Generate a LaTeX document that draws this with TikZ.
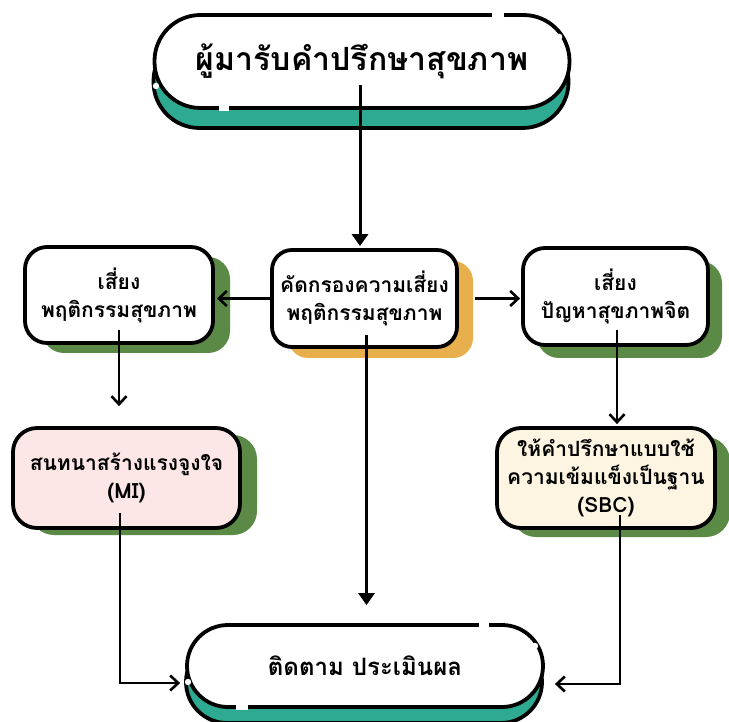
\documentclass[tikz,border=0pt]{standalone}
\usepackage{fontspec}
\newfontfamily\thai[Script=Thai]{Loma}
\usetikzlibrary{arrows.meta,shadows}
\definecolor{tealsh}{HTML}{2EAA93}
\definecolor{greensh}{HTML}{5B8A47}
\definecolor{orangesh}{HTML}{E8B04C}
\definecolor{pinkfill}{HTML}{FDE6E6}
\definecolor{creamfill}{HTML}{FDF5E2}
\tikzset{
  box/.style={draw=black, line width=3.8pt, fill=white, align=center, inner sep=2pt,
    font=\thai\bfseries\fontsize{21}{28}\selectfont},
  pill/.style={box, rounded corners=#1},
  teal shadow/.style={general shadow={fill=tealsh, draw=black, line width=3.8pt, shadow xshift=-1pt, shadow yshift=#1}},
  green shadow/.style 2 args={general shadow={fill=greensh, shadow xshift=#1, shadow yshift=#2}},
  orange shadow/.style 2 args={general shadow={fill=orangesh, shadow xshift=#1, shadow yshift=#2}},
  openarrow/.style={draw=black, line width=2.8pt, -{Straight Barb[length=8pt,width=15pt,line width=2.6pt]}},
  fillarrow/.style={draw=black, line width=3pt, -{Triangle[length=12pt,width=16pt]}},
  gap/.style={white, line width=6pt}
}
\begin{document}
\begin{tikzpicture}[x=1pt,y=-1pt]
\useasboundingbox (0,0) rectangle (729,722);
% nodes
\node[pill=46pt, teal shadow=-20pt, minimum width=415pt, minimum height=93pt,
  font=\thai\bfseries\fontsize{32}{38}\selectfont] (top) at (362,61.5) {ผู้มารับคำปรึกษาสุขภาพ};
\node[pill=20pt, orange shadow={16pt}{-11pt}, minimum width=185pt, minimum height=97pt] (mid) at (364.5,298.5) {คัดกรองความเสี่ยง\\พฤติกรรมสุขภาพ};
\node[pill=22pt, green shadow={17pt}{-10pt}, minimum width=188pt, minimum height=96pt] (left) at (119,295) {เสี่ยง\\พฤติกรรมสุขภาพ};
\node[pill=22pt, green shadow={14pt}{-13pt}, minimum width=185pt, minimum height=97pt] (right) at (615.5,296.5) {เสี่ยง\\ปัญหาสุขภาพจิต};
\node[pill=24pt, green shadow={17pt}{-7pt}, fill=pinkfill, minimum width=227pt, minimum height=100pt] (mi) at (126.5,478) {สนทนาสร้างแรงจูงใจ\\(MI)};
\node[pill=24pt, green shadow={15pt}{-9pt}, fill=creamfill, minimum width=218pt, minimum height=100pt] (sbc) at (606,478) {ให้คำปรึกษาแบบใช้\\ความเข้มแข็งเป็นฐาน\\(SBC)};
\node[pill=41pt, teal shadow=-16pt, minimum width=356pt, minimum height=82pt,
  font=\thai\bfseries\fontsize{24}{29}\selectfont] (bot) at (365,666) {ติดตาม ประเมินผล};
% decorative breaks in the outlines
\draw[gap] (492,15) -- (504,15);
\draw[gap] (219,108) -- (229,108);
\fill[white] (559,37) circle (3.4pt);
\fill[white] (156,86) circle (3.2pt);
\draw[gap] (479,625) -- (489,625);
\draw[gap] (236,707) -- (248,707);
\fill[white] (535,646) circle (3.2pt);
\fill[white] (188,682) circle (3.2pt);
% connectors
\draw[fillarrow, shorten >=2pt] ([xshift=-2pt,yshift=25pt]top.south) -- ([xshift=-2pt]top.south |- mid.north);
\draw[openarrow, shorten >=2pt] (mid.west) -- (mid.west -| left.east);
\draw[openarrow, shorten >=1pt] ([xshift=16pt]mid.east) -- (mid.east -| right.west);
\draw[openarrow, shorten >=5pt] ([yshift=15pt]left.south) -- ([yshift=15pt]left.south |- mi.north);
\draw[openarrow, shorten >=2pt] ([xshift=1.5pt,yshift=17pt]right.south) -- ([xshift=1.5pt]right.south |- sbc.north);
\draw[fillarrow, shorten >=18pt] ([xshift=2pt,yshift=14pt]mid.south) -- ([xshift=2pt]mid.south |- bot.north);
\draw[openarrow, shorten >=5pt] ([xshift=-6.5pt,yshift=17pt]mi.south) |- ([yshift=-17pt]bot.west);
\draw[openarrow, shorten >=10pt] ([xshift=14pt,yshift=15pt]sbc.south) |- ([yshift=-18pt]bot.east);
\end{tikzpicture}
\end{document}
